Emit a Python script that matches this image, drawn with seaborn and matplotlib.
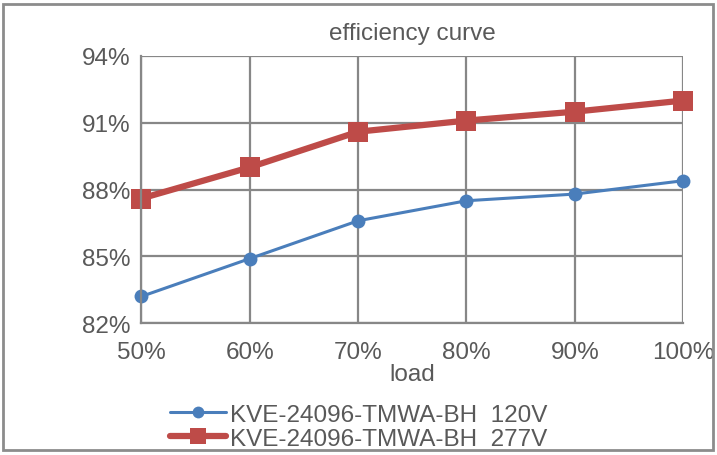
import pandas as pd
import seaborn as sns
import matplotlib.pyplot as plt
from matplotlib.ticker import FixedLocator

# values
loads = [50, 60, 70, 80, 90, 100]
load_labels = ['50%', '60%', '70%', '80%', '90%', '100%']
eff_120v = [83.2, 84.9, 86.6, 87.5, 87.8, 88.4]
eff_277v = [87.6, 89.0, 90.6, 91.1, 91.5, 92.0]
y_ticks = [82, 85, 88, 91, 94]
name_120v = 'KVE-24096-TMWA-BH  120V'
name_277v = 'KVE-24096-TMWA-BH  277V'

sns.set_style('white')
plt.rcParams['font.family'] = ['Liberation Sans', 'DejaVu Sans']
text_col = '#595959'
grid_col = '#878787'

fig = plt.figure(figsize=(7.17, 4.56), dpi=100)
ax = fig.add_axes([0.197, 0.289, 0.756, 0.586])

df_120 = pd.DataFrame({'load': loads, 'eff': eff_120v})
df_277 = pd.DataFrame({'load': loads, 'eff': eff_277v})

sns.lineplot(data=df_120, x='load', y='eff', ax=ax, color='#4a7ebb', linewidth=2.2,
             marker='o', markersize=10, markeredgewidth=0, label=name_120v)
sns.lineplot(data=df_277, x='load', y='eff', ax=ax, color='#be4b48', linewidth=4.5,
             marker='s', markersize=14, markeredgewidth=0, label=name_277v)

ax.set_xlim(50, 100)
ax.set_ylim(82, 94)
ax.xaxis.set_major_locator(FixedLocator(loads))
ax.set_xticklabels(load_labels)
ax.yaxis.set_major_locator(FixedLocator(y_ticks))
ax.set_yticklabels([f'{v}%' for v in y_ticks])
ax.grid(True, color=grid_col, linewidth=1.6)
ax.set_axisbelow(True)
for s in ['top', 'right']:
    ax.spines[s].set_visible(False)
for s in ['left', 'bottom']:
    ax.spines[s].set_color(grid_col)
    ax.spines[s].set_linewidth(1.6)
for ln in ax.lines:
    ln.set_clip_on(False)

ax.tick_params(axis='both', colors=text_col, labelsize=17.5, length=0)
ax.tick_params(axis='x', pad=13)
ax.tick_params(axis='y', pad=8)
ax.set_xlabel('load', fontsize=17.5, color=text_col, labelpad=0)
ax.set_ylabel('')
ax.set_title('efficiency curve', fontsize=17.5, color=text_col, pad=12)

handles, labels = ax.get_legend_handles_labels()
ax.legend_.remove()
fig.legend(handles, labels, loc='lower center', bbox_to_anchor=(0.5, -0.037),
           ncol=1, frameon=False, fontsize=17.5, labelcolor=text_col,
           handlelength=2.3, handletextpad=0.15, labelspacing=0.1, markerscale=0.85)

# outer border of the picture
fig.patches.append(plt.Rectangle((0.004, 0.012), 0.99, 0.978, transform=fig.transFigure,
                                 fill=False, edgecolor='#8c8c8c', linewidth=2))

fig.savefig('out.png', dpi=100)
